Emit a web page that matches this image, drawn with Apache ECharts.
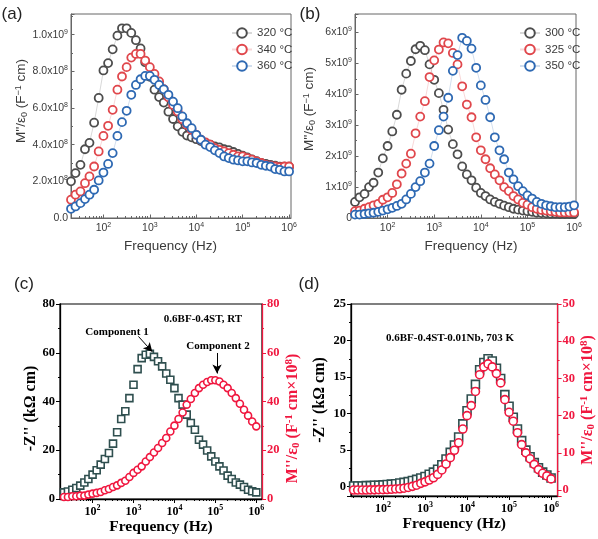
<!DOCTYPE html>
<html><head><meta charset="utf-8">
<script src="https://cdn.jsdelivr.net/npm/echarts@6/dist/echarts.min.js"></script>
<style>html,body{margin:0;padding:0;background:#fff}#c{width:598px;height:539px}</style>
</head><body><div id="c"></div>
<script>
// Frequencies (Hz), 10 points per decade
const freq = [20,25,32,40,50,63,79,100,126,158,200,251,316,398,501,631,794,1000,1259,1585,1995,2512,3162,3981,5012,6310,7943,10000,12589,15849,19953,25119,31623,39811,50119,63096,79433,100000,125893,158489,199526,251189,316228,398107,501187,630957,794328,1000000];

// (a) M''/e0 in units of 1e8 F^-1 cm
const a320 = [2.0,2.45,2.9,3.75,4.1,5.2,6.55,8.05,8.45,9.2,9.95,10.35,10.35,10.1,9.7,9.25,8.5,7.7,7.0,6.6,6.3,5.8,5.4,5.0,4.7,4.5,4.4,4.3,4.2,4.1,4.0,3.9,3.85,3.75,3.7,3.6,3.5,3.4,3.3,3.2,3.1,3.0,2.95,2.9,2.85,2.8,2.8,2.8];
const a340 = [1.0,1.27,1.45,1.9,2.27,2.81,3.63,4.48,5.03,5.9,7.0,7.72,8.23,8.75,8.95,8.95,8.59,8.23,7.86,7.45,7.03,6.59,6.17,5.81,5.39,5.08,4.81,4.54,4.27,4.12,4.0,3.81,3.72,3.63,3.54,3.45,3.36,3.36,3.27,3.18,3.09,3.0,2.9,2.85,2.81,2.78,2.81,2.81];
const a360 = [0.5,0.63,0.81,1.03,1.27,1.54,2.05,2.48,2.95,3.54,4.48,5.23,5.85,6.72,7.26,7.57,7.75,7.75,7.54,7.26,7.02,6.72,6.35,5.99,5.54,5.17,4.9,4.54,4.27,4.0,3.87,3.69,3.54,3.36,3.27,3.18,3.14,3.09,3.09,3.03,3.0,2.9,2.85,2.81,2.67,2.63,2.54,2.54];
const aLegend = ['320 °C','340 °C','360 °C'];

// (b) M''/e0 in units of 1e9 F^-1 cm
const b300 = [0.52,0.67,0.78,1.0,1.14,1.47,1.93,2.33,2.8,3.34,4.15,4.67,5.08,5.46,5.57,5.43,4.97,4.47,4.04,3.5,2.86,2.39,2.06,1.67,1.41,1.22,0.98,0.81,0.71,0.6,0.52,0.46,0.4,0.35,0.3,0.27,0.24,0.22,0.2,0.17,0.16,0.15,0.14,0.14,0.13,0.13,0.13,0.13];
const b325 = [0.22,0.24,0.3,0.35,0.41,0.46,0.59,0.67,0.81,1.09,1.44,1.76,2.08,2.74,3.28,3.78,4.56,5.1,5.45,5.68,5.65,5.34,4.97,4.26,3.67,3.26,2.61,2.19,1.9,1.61,1.41,1.22,1.0,0.87,0.71,0.6,0.49,0.43,0.35,0.3,0.26,0.24,0.22,0.2,0.18,0.18,0.18,0.18];
const b350 = [0.11,0.11,0.13,0.15,0.17,0.2,0.24,0.28,0.33,0.39,0.46,0.6,0.78,1.0,1.19,1.47,1.76,2.33,2.84,3.28,3.89,4.76,5.27,5.83,5.73,5.48,4.86,4.29,3.82,3.26,2.61,2.19,1.9,1.47,1.25,1.03,0.87,0.73,0.63,0.52,0.46,0.41,0.38,0.35,0.35,0.35,0.37,0.41];
const bLegend = ['300 °C','325 °C','350 °C'];

// (c) -Z'' (kOhm cm) and M''/e0 (x1e8)
const cZ = [2.7,3.1,3.8,4.5,5.5,6.8,8.2,10,11.8,14.1,16.4,18.9,22.7,27.4,32.8,36.0,41.4,46.9,53.3,57.8,59.2,59.6,58.3,56.5,54.4,51.5,48.9,45.5,41.4,38.7,34.6,31.2,28.4,24.3,22.3,19.9,17.5,15.4,13.4,11.7,9.6,8.2,6.8,5.9,4.9,3.8,3.2,2.7];
const cM = [0.8,0.8,1.1,1.1,1.4,1.4,1.8,2.2,2.5,2.9,3.6,4.1,4.9,5.6,6.6,7.5,9.0,10.7,12.0,13.4,15.4,17.2,19.1,20.9,23.0,25.0,27.7,30.1,32.8,35.5,38.7,41.0,43.5,45.5,46.9,48.0,48.7,48.7,48.2,46.9,45.5,43.5,41.4,39.1,36.6,34.2,31.8,29.8];

// (d) -Z'' (kOhm cm) and M''/e0 (x1e8)
const dZ = [0.1,0.1,0.1,0.15,0.15,0.2,0.2,0.25,0.3,0.35,0.4,0.5,0.6,0.7,0.85,1.0,1.2,1.4,1.7,2.0,2.4,3.0,3.8,4.7,5.7,6.8,8.6,10.4,12.0,14.0,16.0,17.0,17.5,17.2,16.2,14.8,12.6,11.0,9.5,7.9,6.3,5.0,4.1,3.3,2.6,2.0,1.6,1.2];
const dM = [0,0,0,0,0.05,0.05,0.1,0.1,0.15,0.2,0.3,0.35,0.5,0.7,1.0,1.3,1.8,2.2,2.7,3.3,4.2,5.4,7.0,8.7,10.7,12.7,16.4,20.0,22.7,26.5,31.0,33.1,33.9,33.1,31.3,28.8,24.3,20.9,18.5,15.4,12.2,10.0,8.4,6.9,5.5,4.5,3.8,3.0];

const pair = (xs, ys) => xs.map((x, i) => [x, ys[i]]);
const minorFreq = [];
for (let e = 1; e <= 6; e++) for (let m = 2; m <= 9; m++) minorFreq.push(m * Math.pow(10, e));

const SANS = '"Liberation Sans", Arial, sans-serif';
const SERIF = '"Liberation Serif", "Times New Roman", serif';
const GRAYTXT = '#3a3a3a';
const FRAME = '#666';
const RED = '#f0173f';
const SLATE = '#2f4f4f';
const colA = ['#4d4d4d', '#e0474c', '#2e69b3'];

const expLabel = v => '10{s|' + Math.round(Math.log10(v)) + '}';

function xMain(g, min, max, serif) {
  const fam = serif ? SERIF : SANS;
  const col = serif ? '#000' : GRAYTXT;
  return {
    type: 'log', logBase: 10, gridIndex: g, min: min, max: max, position: 'bottom',
    axisLine: {show: true, onZero: false, lineStyle: {color: serif ? '#000' : FRAME, width: serif ? 1.3 : 1}},
    axisTick: {show: true, inside: !serif, length: serif ? 4 : 3.5, lineStyle: {color: serif ? '#000' : FRAME}},
    minorTick: {show: false},
    splitLine: {show: false},
    axisLabel: {
      formatter: expLabel, showMinLabel: false, showMaxLabel: false,
      margin: serif ? 5 : 4, color: col, fontFamily: fam, fontSize: serif ? 12 : 10.5,
      fontWeight: serif ? 'bold' : 'normal',
      rich: {s: {fontSize: serif ? 8 : 7, fontFamily: fam, fontWeight: serif ? 'bold' : 'normal', color: col, verticalAlign: 'bottom', padding: [0, 0, serif ? 7 : 6, 0]}}
    },
    name: 'Frequency (Hz)', nameLocation: 'middle',
    nameGap: serif ? 20 : 21,
    nameTextStyle: {fontFamily: fam, fontSize: serif ? 15.5 : 13.5, fontWeight: serif ? 'bold' : 'normal', color: serif ? '#000' : GRAYTXT,
      padding: serif ? [0, 0, 0, 0] : (g === 0 ? [0, 21, 0, 0] : [0, 0, 0, 11])}
  };
}
function xMinor(g, min, max, serif) {
  return {
    type: 'log', logBase: 10, gridIndex: g, min: min, max: max, position: 'bottom',
    axisLine: {show: false, onZero: false}, axisLabel: {show: false}, splitLine: {show: false},
    axisTick: {show: true, inside: !serif, length: 2, customValues: minorFreq.filter(v => v > min && v < max),
      lineStyle: {color: serif ? '#000' : FRAME}}
  };
}

const sansName = {fontFamily: SANS, fontSize: 13.5, color: GRAYTXT,
  rich: {sub: {fontFamily: SANS, fontSize: 9, color: GRAYTXT, verticalAlign: 'top', padding: [6, 0, 0, 0]},
         sup: {fontFamily: SANS, fontSize: 9, color: GRAYTXT, verticalAlign: 'bottom', padding: [0, 0, 6, 0]}}};

function serifName(color, extra) {
  return Object.assign({fontFamily: SERIF, fontSize: 16, fontWeight: 'bold', color: color,
    rich: {sub: {fontFamily: SERIF, fontSize: 11, fontWeight: 'bold', color: color, verticalAlign: 'top', padding: [7, 0, 0, 0]},
           sup: {fontFamily: SERIF, fontSize: 11, fontWeight: 'bold', color: color, verticalAlign: 'bottom', padding: [0, 0, 7, 0]}}}, extra);
}

const aLabel = v => v === 0 ? '0.0' : (v >= 9.99 ? '1.0x10{s|9}' : v.toFixed(1) + 'x10{s|8}');
const bLabel = v => v === 0 ? '0' : v + 'x10{s|9}';

function ySans(g, max, interval, fmt, padLeft) {
  return {
    type: 'value', gridIndex: g, min: 0, max: max, interval: interval,
    axisLine: {show: true, onZero: false, lineStyle: {color: FRAME}},
    axisTick: {show: true, inside: true, length: 3.5, lineStyle: {color: FRAME}},
    minorTick: {show: true, splitNumber: 2, length: 2, lineStyle: {color: FRAME}},
    splitLine: {show: false},
    axisLabel: {formatter: fmt, showMaxLabel: false, margin: 3, color: GRAYTXT, fontFamily: SANS, fontSize: 10.5,
      rich: {s: {fontSize: 7, fontFamily: SANS, color: GRAYTXT, verticalAlign: 'bottom', padding: [0, 0, 6, 0]}}},
    name: "M''/ε{sub|0} (F{sup|−1} cm)", nameLocation: 'middle', nameRotate: 90, nameGap: 38,
    nameTextStyle: Object.assign({}, sansName, {padding: [0, 0, 0, padLeft]})
  };
}

function ySerif(g, min, max, color, position, minorSplit, name, gap, pad) {
  return {
    type: 'value', gridIndex: g, min: min, max: max, splitNumber: 5, position: position,
    axisLine: {show: true, onZero: false, lineStyle: {color: color, width: 1.3}},
    axisTick: {show: true, inside: false, length: 4, lineStyle: {color: color}},
    minorTick: {show: true, splitNumber: minorSplit, length: 2, lineStyle: {color: color}},
    splitLine: {show: false},
    axisLabel: {showMinLabel: min >= 0, margin: 5, color: color, fontFamily: SERIF, fontSize: 12.5, fontWeight: 'bold'},
    name: name, nameLocation: 'middle', nameRotate: 90, nameGap: gap,
    nameTextStyle: serifName(color, {padding: pad})
  };
}

const grids = [
  {left: 71, top: 14, width: 220, height: 204},
  {left: 355, top: 14, width: 221, height: 204},
  {left: 60, top: 304, width: 202, height: 195},
  {left: 351, top: 304, width: 207, height: 192}
].map(g => Object.assign(g, {show: true, borderColor: '#000', borderWidth: 1.2, containLabel: false}));
grids[0].borderColor = FRAME; grids[0].borderWidth = 1;
grids[1].borderColor = FRAME; grids[1].borderWidth = 1;

const xLim = [[20, 1.1e6], [20, 1.1e6], [16, 1.38e6], [17.3, 1.43e6]];
const xAxes = [];
xLim.forEach((l, g) => xAxes.push(xMain(g, l[0], l[1], g >= 2)));
xLim.forEach((l, g) => xAxes.push(xMinor(g, l[0], l[1], g >= 2)));

const yAxes = [
  ySans(0, 11.13, 2, aLabel, 30),
  ySans(1, 6.6, 1, bLabel, 14),
  ySerif(2, 0, 80, '#000', 'left', 2, "-Z'' (kΩ cm)", 18, [0, 14, 0, 0]),
  ySerif(2, 0, 80, RED, 'right', 2, "M''/ε{sub|0} (F{sup|-1} cm×10{sup|8})", 20, [0, 34, 0, 0]),
  ySerif(3, -1.27, 25, '#000', 'left', 2, "-Z'' (kΩ cm)", 23, [0, 0, 0, 0]),
  ySerif(3, -1.6, 50, RED, 'right', 2, "M''/ε{sub|0} (F{sup|-1} cm×10{sup|8})", 21, [0, 0, 0, 0])
];

function lineSeries(name, x, y, data, color) {
  return {
    name: name, type: 'line', xAxisIndex: x, yAxisIndex: y, data: data,
    symbol: 'circle', symbolSize: 8, showSymbol: true,
    itemStyle: {color: '#fff', borderColor: color, borderWidth: 1.8},
    lineStyle: {color: color, width: 1, opacity: 0.22},
    emphasis: {disabled: true}, animation: false, z: 3
  };
}
function scatter(x, y, data, symbol, size, color, extra) {
  return Object.assign({
    type: 'scatter', xAxisIndex: x, yAxisIndex: y, data: data, symbol: symbol, symbolSize: size,
    itemStyle: {color: '#fff', borderColor: color, borderWidth: 1.6, opacity: 1},
    emphasis: {disabled: true}, animation: false
  }, extra || {});
}

const arrowLine = {
  silent: true, symbol: ['none', 'arrow'], symbolSize: [7, 9], label: {show: false},
  lineStyle: {color: '#000', width: 1, type: 'solid'}, animation: false
};

const series = [
  lineSeries(aLegend[0], 0, 0, pair(freq, a320), colA[0]),
  lineSeries(aLegend[1], 0, 0, pair(freq, a340), colA[1]),
  lineSeries(aLegend[2], 0, 0, pair(freq, a360), colA[2]),
  lineSeries(bLegend[0], 1, 1, pair(freq, b300), colA[0]),
  lineSeries(bLegend[1], 1, 1, pair(freq, b325), colA[1]),
  lineSeries(bLegend[2], 1, 1, pair(freq, b350), colA[2]),
  scatter(2, 2, pair(freq, cZ), 'rect', 7, SLATE, {
    markLine: Object.assign({}, arrowLine, {data: [[{coord: [1320, 66.7]}, {coord: [2880, 60.4]}]]})
  }),
  scatter(2, 3, pair(freq, cM), 'circle', 7, RED, {
    markLine: Object.assign({}, arrowLine, {data: [[{coord: [1.1e5, 59.9]}, {coord: [1.1e5, 51.5]}]]})
  }),
  scatter(3, 4, pair(freq, dZ), 'rect', 8, SLATE),
  scatter(3, 5, pair(freq, dM), 'circle', 8, RED)
];

const legendCommon = {
  orient: 'vertical', itemWidth: 20, itemHeight: 12, itemGap: 4.5,
  textStyle: {fontFamily: SANS, fontSize: 11.5, color: GRAYTXT}, selectedMode: false
};

const txt = (x, y, s, font, color, align) => ({
  type: 'text', x: x, y: y, silent: true,
  style: {text: s, font: font, fill: color || '#000', textAlign: align || 'center', textVerticalAlign: 'middle'}
});

const option = {
  backgroundColor: '#fff',
  animation: false,
  grid: grids,
  xAxis: xAxes,
  yAxis: yAxes,
  legend: [
    Object.assign({}, legendCommon, {data: aLegend, left: 226, top: 22}),
    Object.assign({}, legendCommon, {data: bLegend, left: 514, top: 22})
  ],
  series: series,
  graphic: [
    txt(12, 14, '(a)', '17px ' + SANS, '#222'),
    txt(310, 14, '(b)', '17px ' + SANS, '#222'),
    txt(24, 284, '(c)', '17px ' + SANS, '#222'),
    txt(309, 284, '(d)', '17px ' + SANS, '#222'),
    txt(203, 319, '0.6BF-0.4ST, RT', 'bold 11px ' + SERIF),
    txt(117, 332, 'Component 1', 'bold 11px ' + SERIF),
    txt(218, 346, 'Component 2', 'bold 11px ' + SERIF),
    txt(450, 338, '0.6BF-0.4ST-0.01Nb, 703 K', 'bold 11px ' + SERIF)
  ]
};

const chart = echarts.init(document.getElementById('c'), null, {renderer: 'canvas'});
chart.setOption(option);
</script>
</body></html>
